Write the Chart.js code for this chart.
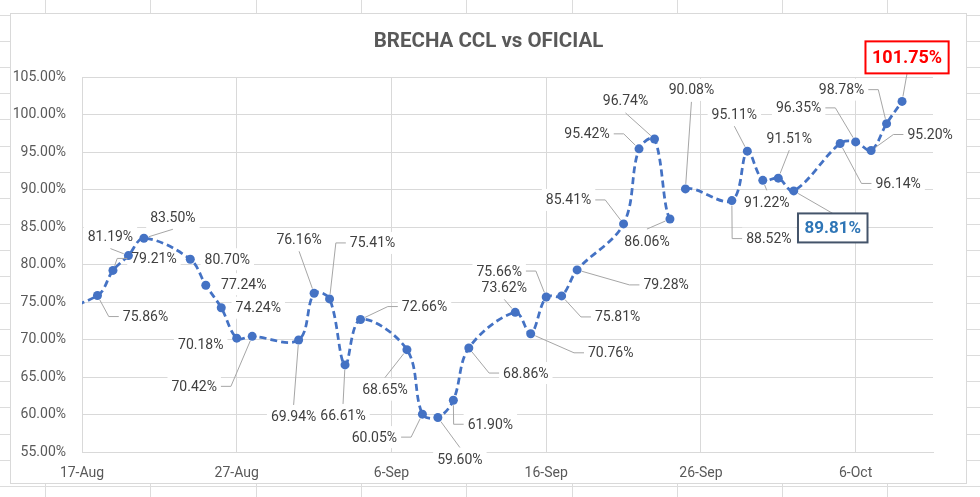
<!DOCTYPE html>
<html>
<head>
<meta charset="utf-8">
<script src="https://cdn.jsdelivr.net/npm/chart.js@4.4.1/dist/chart.umd.min.js"></script>
<style>
  html, body { margin: 0; padding: 0; background: #fff; }
  canvas { display: block; }
</style>
</head>
<body>
<canvas id="brecha-chart" width="980" height="497"></canvas>
<script>
const titleText = "BRECHA CCL vs OFICIAL";

// trading days and CCL gap vs official rate (%)
const dates = [
  "2020-08-14", "2020-08-18", "2020-08-19", "2020-08-20", "2020-08-21",
  "2020-08-24", "2020-08-25", "2020-08-26", "2020-08-27", "2020-08-28",
  "2020-08-31", "2020-09-01", "2020-09-02", "2020-09-03", "2020-09-04",
  "2020-09-07", "2020-09-08", "2020-09-09", "2020-09-10", "2020-09-11",
  "2020-09-14", "2020-09-15", "2020-09-16", "2020-09-17", "2020-09-18",
  "2020-09-21", "2020-09-22", "2020-09-23", "2020-09-24", "2020-09-25",
  "2020-09-28", "2020-09-29", "2020-09-30", "2020-10-01", "2020-10-02",
  "2020-10-05", "2020-10-06", "2020-10-07", "2020-10-08", "2020-10-09"
];
const brecha = [
  73.0, 75.86, 79.21, 81.19, 83.50,
  80.70, 77.24, 74.24, 70.18, 70.42,
  69.94, 76.16, 75.41, 66.61, 72.66,
  68.65, 60.05, 59.60, 61.90, 68.86,
  73.62, 70.76, 75.66, 75.81, 79.28,
  85.41, 95.42, 96.74, 86.06, 90.08,
  88.52, 95.11, 91.22, 91.51, 89.81,
  96.14, 96.35, 95.20, 98.78, 101.75
];

const axisStart = "2020-08-17";
const axisEnd = "2020-10-11";
const tickDates = ["2020-08-17", "2020-08-27", "2020-09-06", "2020-09-16", "2020-09-26", "2020-10-06"];
const tickLabels = ["17-Aug", "27-Aug", "6-Sep", "16-Sep", "26-Sep", "6-Oct"];
const gapAfter = ["2020-09-24"];   // no line drawn between this day and the next
const maxDay = "2020-10-09";
const minDay = "2020-10-02";

// label placement relative to its point: [dx, dy, leader attach]
const labelPos = {
  "2020-08-18": [48, 21, "h"],  "2020-08-19": [41, -12, "h"], "2020-08-20": [-18, -19, "v"],
  "2020-08-21": [29, -21, "v"], "2020-08-24": [37, 0, ""],    "2020-08-25": [38, -1, ""],
  "2020-08-26": [37, 0, ""],    "2020-08-27": [-36, 6, ""],   "2020-08-28": [-58, 50, "h"],
  "2020-08-31": [-5, 77, "v"],  "2020-09-01": [-15, -54, "v"], "2020-09-02": [43, -56, "h"],
  "2020-09-03": [-2, 51, "v"],  "2020-09-04": [64, -13, "h"], "2020-09-07": [-22, 40, "v"],
  "2020-09-08": [-48, 23, "h"], "2020-09-09": [22, 42, "v"],  "2020-09-10": [37, 24, "h"],
  "2020-09-11": [57, 25, "h"],  "2020-09-14": [-11, -25, "v"], "2020-09-15": [80, 19, "h"],
  "2020-09-16": [-47, -26, "h"], "2020-09-17": [56, 21, "h"], "2020-09-18": [89, 15, "h"],
  "2020-09-21": [-55, -24, "h"], "2020-09-22": [-52, -15, "h"], "2020-09-23": [-29, -38, "v"],
  "2020-09-24": [-23, 22, "v"], "2020-09-25": [6, -99, "v"],  "2020-09-28": [37, 38, "h"],
  "2020-09-29": [-13, -37, "v"], "2020-09-30": [4, 22, "v"],  "2020-10-01": [11, -40, "v"],
  "2020-10-02": [39, 37, "v"],  "2020-10-05": [58, 40, "h"],  "2020-10-06": [-57, -34, "h"],
  "2020-10-07": [59, -16, "h"], "2020-10-08": [-45, -34, "h"], "2020-10-09": [5, -44, "v"]
};

const blue = "#4472C4";
const fontFamily = "Roboto, 'Liberation Sans', sans-serif";

const day = d => (Date.parse(d) - Date.parse(axisStart)) / 864e5;
const points = dates.map((d, i) => ({ x: day(d), y: brecha[i] }));
const gapIdx = gapAfter.map(d => dates.indexOf(d));

// spreadsheet cells behind the chart, chart frame and title
const sheetPlugin = {
  id: "sheet",
  beforeDraw(chart) {
    const { ctx, width, height } = chart;
    ctx.save();
    ctx.fillStyle = "#fff";
    ctx.fillRect(0, 0, width, height);
    ctx.strokeStyle = "#dcdcdc";
    ctx.lineWidth = 1;
    ctx.beginPath();
    for (let x = 45; x < width; x += 105.3) {
      ctx.moveTo(Math.round(x) + 0.5, 0);
      ctx.lineTo(Math.round(x) + 0.5, height);
    }
    for (let y = 14.5; y < height; y += 26.2) {
      ctx.moveTo(0, Math.round(y) + 0.5);
      ctx.lineTo(width, Math.round(y) + 0.5);
    }
    ctx.stroke();
    ctx.fillStyle = "#fff";
    ctx.fillRect(10, 13, 957, 471);
    ctx.strokeStyle = "#d9d9d9";
    ctx.strokeRect(10.5, 13.5, 956, 470);
    ctx.fillStyle = "#595959";
    ctx.font = "bold 20.5px " + fontFamily;
    ctx.textAlign = "center";
    ctx.textBaseline = "middle";
    ctx.fillText(titleText, 488.5, 42);
    ctx.restore();
  }
};

function labelItems(chart) {
  const meta = chart.getDatasetMeta(0);
  const ctx = chart.ctx;
  const items = [];
  dates.forEach((d, i) => {
    const pos = labelPos[d];
    if (!pos) return;
    const el = meta.data[i];
    const kind = d === maxDay ? "max" : d === minDay ? "min" : "";
    const font = kind === "max" ? "bold 18px " + fontFamily
      : kind === "min" ? "bold 17px " + fontFamily : "14px " + fontFamily;
    ctx.font = font;
    const text = brecha[i].toFixed(2) + "%";
    const tw = ctx.measureText(text).width;
    const cx = el.x + pos[0], cy = el.y + pos[1];
    let w, h;
    if (kind === "max") { w = tw + 13; h = 32; }
    else if (kind === "min") { w = tw + 13; h = 29; }
    else { w = tw + 8; h = 24; }
    items.push({ el, text, tw, font, kind, cx, cy, w, h, attach: pos[2], dx: pos[0], dy: pos[1] });
  });
  return items;
}

const labelPlugin = {
  id: "pointLabels",
  beforeDatasetsDraw(chart) {
    // white label boxes hide the gridlines, the series is drawn over them
    const ctx = chart.ctx;
    ctx.save();
    ctx.fillStyle = "#fff";
    labelItems(chart).forEach(it => {
      if (!it.kind) ctx.fillRect(it.cx - it.w / 2, it.cy - 11, it.w, 22);
    });
    ctx.restore();
  },
  afterDatasetsDraw(chart) {
    const ctx = chart.ctx;
    const items = labelItems(chart);
    ctx.save();
    // leader lines
    ctx.strokeStyle = "#a6a6a6";
    ctx.lineWidth = 1;
    items.forEach(it => {
      if (!it.attach) return;
      const px = it.el.x, py = it.el.y;
      const boxed = !!it.kind;
      const halfW = boxed ? it.w / 2 : it.tw / 2 + 4;
      const halfH = boxed ? it.h / 2 : 12;
      let path;
      if (it.attach === "h") {
        const s = Math.sign(it.dx);
        const ex = it.cx - s * halfW;
        path = [[ex - s * 10, it.cy], [ex, it.cy]];
      } else {
        const s = Math.sign(it.dy);
        path = [[it.cx, it.cy - s * halfH]];
      }
      const [fx, fy] = path[0];
      const len = Math.hypot(fx - px, fy - py) || 1;
      const r = 5;
      ctx.beginPath();
      ctx.moveTo(px + (fx - px) * r / len, py + (fy - py) * r / len);
      path.forEach(([x, y]) => ctx.lineTo(x, y));
      ctx.stroke();
    });
    // boxes and text
    ctx.textAlign = "center";
    ctx.textBaseline = "middle";
    items.forEach(it => {
      if (it.kind) {
        ctx.fillStyle = "#fff";
        ctx.fillRect(it.cx - it.w / 2, it.cy - it.h / 2, it.w, it.h);
        ctx.lineWidth = 2;
        ctx.strokeStyle = it.kind === "max" ? "#FF0000" : "#44546A";
        ctx.strokeRect(it.cx - it.w / 2, it.cy - it.h / 2, it.w, it.h);
        ctx.fillStyle = it.kind === "max" ? "#FF0000" : "#2E75B6";
      } else {
        ctx.fillStyle = "#404040";
      }
      ctx.font = it.font;
      ctx.fillText(it.text, it.cx, it.cy + 1);
    });
    ctx.restore();
  }
};

const tickFont = { family: fontFamily, size: 14 };

new Chart(document.getElementById("brecha-chart"), {
  type: "line",
  data: {
    datasets: [{
      label: titleText,
      data: points,
      borderColor: blue,
      backgroundColor: blue,
      borderWidth: 2.75,
      borderDash: [7, 4],
      borderCapStyle: "butt",
      tension: 0.35,
      pointRadius: 4.5,
      pointHoverRadius: 4.5,
      pointBorderWidth: 0,
      pointBackgroundColor: blue,
      segment: {
        borderColor: c => gapIdx.includes(c.p0DataIndex) ? "transparent" : undefined
      }
    }]
  },
  options: {
    responsive: false,
    animation: false,
    devicePixelRatio: 1,
    layout: { padding: { left: 0, right: 47, top: 77, bottom: 0 } },
    plugins: {
      legend: { display: false },
      tooltip: { enabled: false },
      title: { display: false }
    },
    scales: {
      x: {
        type: "linear",
        min: 0,
        max: day(axisEnd),
        afterBuildTicks: s => { s.ticks = tickDates.map(d => ({ value: day(d) })); },
        afterFit: s => { s.height = 45; },
        ticks: {
          autoSkip: false,
          maxRotation: 0,
          padding: 13,
          color: "#595959",
          font: tickFont,
          callback: (v, i) => tickLabels[i]
        },
        grid: { color: "#d9d9d9", drawTicks: false },
        border: { color: "#d9d9d9" }
      },
      y: {
        min: 55,
        max: 105,
        afterFit: s => { s.width = 82; },
        ticks: {
          stepSize: 5,
          padding: 16,
          color: "#595959",
          font: tickFont,
          callback: v => v.toFixed(2) + "%"
        },
        grid: { color: "#d9d9d9", drawTicks: false },
        border: { color: "#d9d9d9" }
      }
    }
  },
  plugins: [sheetPlugin, labelPlugin]
});
</script>
</body>
</html>
